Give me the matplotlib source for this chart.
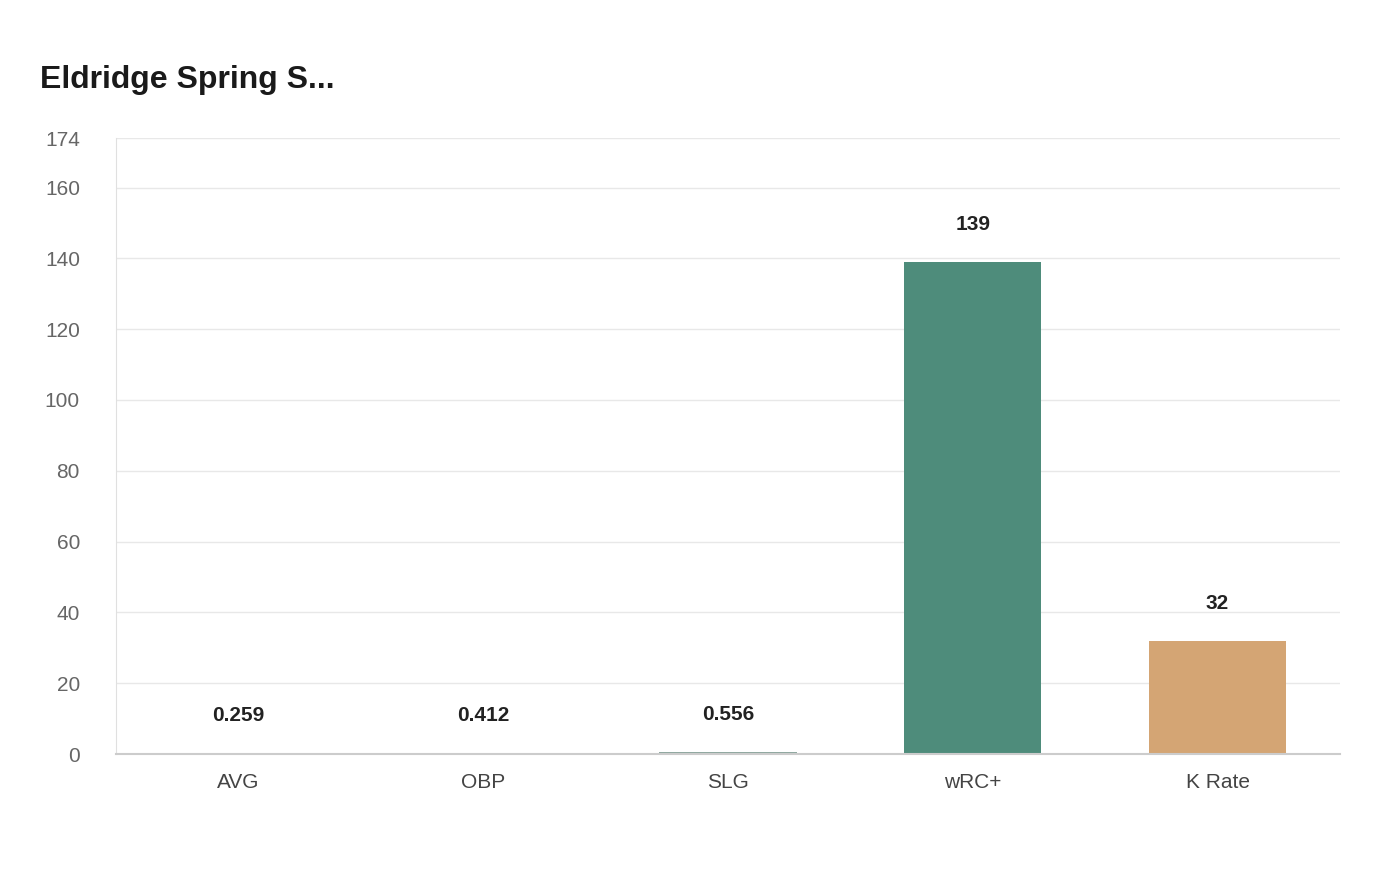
import matplotlib
matplotlib.use("Agg")
import matplotlib.pyplot as plt
from matplotlib.patches import FancyBboxPatch

categories = ["AVG", "OBP", "SLG", "wRC+", "K Rate"]
values = [0.259, 0.412, 0.556, 139, 32]
labels = ["0.259", "0.412", "0.556", "139", "32"]
colors = ["#d9dcdc", "#9fb3b8", "#8fa8a0", "#4e8c7b", "#d4a574"]
yticks = [0, 20, 40, 60, 80, 100, 120, 140, 160, 174]

plt.rcParams['font.family'] = ['Liberation Sans', 'DejaVu Sans']
fig = plt.figure(figsize=(14, 8.8), dpi=100)
ax = fig.add_axes([116/1400, 1-754/880, (1340-116)/1400, (754-138)/880])
x = range(len(categories))
bars = ax.bar(x, values, width=0.56, color=colors, zorder=2)
ax.set_xlim(-0.5, 4.5)
ax.set_ylim(0, 174)
ax.set_yticks(yticks)
ax.set_xticks(list(x))
ax.set_xticklabels(categories)
ax.tick_params(axis='x', length=0, pad=14, labelsize=15, colors="#444444")
ax.tick_params(axis='y', length=0, pad=26, labelsize=15, colors="#666666")
for lab in ax.get_yticklabels():
    lab.set_horizontalalignment('right')
ax.grid(axis='y', color="#e8e8e8", lw=1, zorder=0)
for s in ["top", "right"]:
    ax.spines[s].set_visible(False)
ax.spines["left"].set_color("#e0e0e0")
ax.spines["bottom"].set_color("#cccccc")
ax.spines["bottom"].set_linewidth(1.5)
for i, (v, l) in enumerate(zip(values, labels)):
    ax.annotate(l, (i, v), xytext=(0, 20), textcoords="offset points",
                ha="center", va="bottom", fontsize=15, fontweight="bold", color="#222222")
fig.text(40/1400, 1-80/880, "Eldridge Spring S...", fontsize=23, fontweight="bold",
         color="#1a1a1a", va="center", ha="left")
fig.savefig("out.png", dpi=100)
